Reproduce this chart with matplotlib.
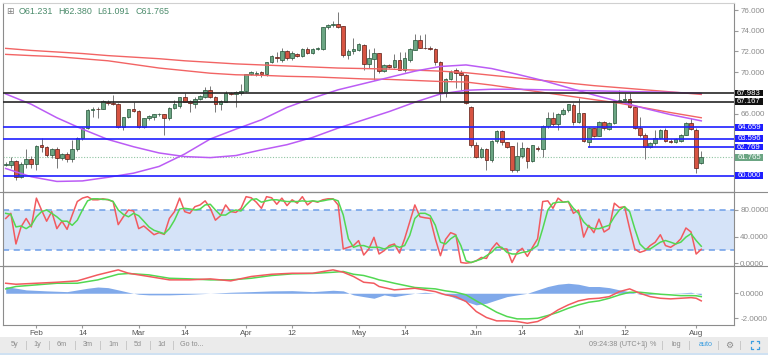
import matplotlib
matplotlib.use('Agg')
import matplotlib.pyplot as plt
import matplotlib.transforms as mtransforms
from matplotlib.lines import Line2D
from matplotlib.patches import Rectangle
from matplotlib.ticker import FormatStrFormatter
import numpy as np

plt.rcParams['font.family'] = ['Liberation Sans', 'DejaVu Sans']

W, H = 768, 355

# daily bars, 24 Jan .. 2 Aug (bar index 0 .. 136)
opens = [
    61.00, 61.04, 61.43, 59.91, 61.17, 61.62, 61.17, 62.97, 62.81, 62.00,
    62.58, 61.68, 62.07, 61.59, 62.58, 63.61, 64.64, 66.32, 66.46, 66.44,
    67.15, 67.06, 66.93, 64.68, 65.64, 66.41, 66.28, 64.68, 65.54, 65.65,
    65.93, 65.93, 65.54, 66.51, 66.73, 67.60, 67.22, 66.96, 67.38, 67.60,
    68.25, 67.63, 66.93, 67.15, 67.99, 67.86, 67.95, 68.18, 69.79, 69.85,
    70.05, 69.79, 70.95, 71.50, 71.20, 72.04, 71.34, 71.80, 71.60, 72.20,
    71.90, 72.20, 72.24, 74.33, 74.55, 74.70, 74.45, 71.66, 72.00, 72.14,
    72.60, 70.76, 71.27, 71.82, 70.15, 70.69, 70.53, 71.17, 70.21, 71.20,
    72.14, 73.10, 72.36, 72.36, 72.24, 71.01, 67.96, 69.34, 70.20, 69.90,
    69.73, 66.60, 62.97, 61.84, 62.58, 61.52, 63.36, 64.32, 63.23, 62.87,
    60.56, 61.94, 62.65, 61.42, 62.65, 62.58, 64.84, 65.61, 64.97, 65.96,
    66.35, 66.80, 65.22, 66.03, 63.29, 64.58, 63.84, 65.16, 64.51, 65.06,
    67.22, 67.31, 67.38, 66.61, 64.64, 63.93, 62.81, 63.13, 63.61, 64.42,
    63.36, 63.29, 63.36, 63.93, 65.06, 64.42, 61.231]
highs = [
    61.30, 61.84, 61.50, 61.36, 62.58, 61.90, 62.97, 63.61, 62.90, 62.70,
    62.80, 62.20, 62.33, 63.45, 63.70, 64.74, 66.40, 66.67, 66.67, 67.31,
    67.31, 67.80, 67.00, 65.70, 66.45, 67.15, 66.35, 65.60, 65.90, 66.00,
    66.05, 66.00, 66.60, 67.31, 67.63, 67.96, 67.31, 67.63, 67.80, 68.60,
    68.66, 67.70, 67.31, 68.18, 68.10, 68.18, 68.90, 69.85, 70.10, 70.10,
    70.10, 71.00, 71.70, 71.98, 72.30, 72.10, 72.00, 71.90, 72.30, 72.40,
    72.30, 72.40, 74.40, 74.70, 74.90, 75.77, 74.50, 72.20, 73.30, 72.80,
    72.70, 72.20, 72.30, 71.90, 70.75, 70.80, 71.72, 71.98, 71.98, 72.30,
    73.65, 73.60, 73.65, 72.50, 72.30, 71.10, 69.40, 70.20, 70.40, 70.20,
    69.80, 66.70, 63.29, 62.80, 62.65, 63.45, 64.42, 64.40, 63.30, 62.90,
    63.29, 63.29, 62.81, 63.00, 62.90, 64.90, 66.19, 66.12, 66.03, 66.50,
    66.93, 67.00, 67.47, 66.09, 64.74, 64.60, 65.30, 65.30, 65.20, 67.30,
    68.28, 68.00, 67.96, 66.70, 65.70, 64.10, 63.30, 64.42, 64.50, 64.58,
    63.50, 63.60, 64.00, 65.20, 65.54, 64.60, 62.380]
lows = [
    60.90, 60.72, 59.59, 59.75, 60.72, 60.70, 60.56, 62.33, 61.80, 61.68,
    60.72, 61.50, 61.36, 61.36, 62.40, 63.45, 64.50, 65.70, 65.54, 66.40,
    66.83, 66.83, 64.60, 64.42, 65.54, 66.19, 64.58, 64.60, 65.40, 65.38,
    65.80, 63.93, 65.40, 66.45, 66.51, 67.10, 66.19, 66.50, 67.30, 67.47,
    67.47, 66.19, 66.35, 67.10, 67.80, 66.67, 67.80, 68.10, 69.70, 69.60,
    69.50, 69.60, 70.90, 71.00, 71.00, 71.20, 71.20, 71.50, 71.50, 71.80,
    71.80, 72.10, 72.10, 74.20, 74.40, 74.30, 71.50, 71.30, 71.80, 72.00,
    70.20, 70.40, 69.25, 69.90, 70.05, 70.40, 70.37, 70.20, 70.05, 71.00,
    72.10, 72.30, 72.20, 72.10, 70.70, 67.10, 67.60, 69.20, 68.44, 68.30,
    66.90, 62.80, 61.68, 61.70, 60.56, 61.36, 63.20, 62.97, 62.70, 60.40,
    60.40, 61.68, 60.72, 61.36, 62.40, 61.84, 64.58, 64.84, 64.42, 65.90,
    66.20, 64.90, 65.06, 63.29, 62.81, 63.70, 63.80, 64.40, 64.40, 65.00,
    67.10, 67.20, 66.51, 64.50, 63.77, 61.62, 62.70, 62.97, 63.50, 63.29,
    63.20, 63.20, 63.30, 63.90, 64.42, 60.23, 61.091]
closes = [
    61.10, 61.43, 59.91, 61.10, 61.62, 61.17, 62.90, 62.81, 62.00, 62.58,
    61.68, 62.07, 61.59, 62.58, 63.61, 64.64, 66.35, 66.44, 66.40, 67.22,
    67.03, 66.89, 64.68, 65.64, 66.41, 66.25, 64.68, 65.54, 65.77, 65.93,
    65.96, 65.54, 66.57, 66.89, 67.60, 67.15, 66.99, 67.38, 67.73, 68.25,
    67.63, 66.93, 67.22, 67.96, 67.90, 68.05, 68.20, 69.79, 70.05, 69.95,
    69.79, 70.95, 71.60, 71.40, 72.04, 71.34, 71.90, 71.60, 72.20, 71.90,
    72.24, 72.30, 74.33, 74.55, 74.70, 74.40, 71.66, 72.04, 72.24, 72.70,
    70.76, 71.34, 71.82, 70.15, 70.69, 70.53, 71.17, 70.21, 71.34, 72.24,
    73.10, 72.36, 72.30, 72.24, 71.01, 67.96, 69.34, 70.05, 69.89, 69.70,
    67.00, 62.97, 61.84, 62.58, 61.52, 63.36, 64.32, 63.23, 62.81, 60.56,
    61.94, 62.65, 61.42, 62.97, 62.60, 64.84, 65.61, 64.97, 65.96, 66.35,
    66.89, 65.22, 66.03, 63.35, 64.58, 63.84, 65.16, 64.60, 65.06, 67.22,
    67.31, 67.38, 66.61, 64.64, 63.93, 62.81, 63.13, 63.61, 64.42, 63.36,
    63.29, 63.50, 63.93, 65.06, 64.51, 60.72, 61.765]

# moving averages, read every few bars
ma_x = [0, 5, 10, 15, 20, 25, 30, 35, 40, 45, 50, 55, 60, 65, 70, 75, 80,
        85, 90, 95, 100, 105, 110, 115, 120, 125, 130, 136]
red_slow = [72.30, 72.10, 71.95, 71.80, 71.60, 71.45, 71.30, 71.10, 70.95,
            70.80, 70.70, 70.60, 70.50, 70.40, 70.35, 70.30, 70.20, 70.10,
            69.95, 69.70, 69.45, 69.20, 68.95, 68.70, 68.50, 68.30, 68.10, 67.85]
red_fast = [71.72, 71.60, 71.50, 71.30, 71.10, 70.75, 70.40, 70.15, 69.90,
            69.75, 69.70, 69.60, 69.55, 69.45, 69.35, 69.30, 69.20, 69.10,
            69.05, 68.75, 68.40, 68.05, 67.70, 67.35, 67.00, 66.55, 66.10, 65.60]
purple_slow = [67.90, 66.90, 65.60, 64.50, 63.50, 62.80, 62.20, 61.85, 61.75,
               61.95, 62.50, 63.00, 63.70, 64.60, 65.40, 66.20, 67.10, 67.90,
               68.25, 68.35, 68.35, 68.30, 68.25, 68.20, 68.15, 68.10, 68.05, 67.95]
purple_fast = [60.70, 59.90, 59.45, 59.50, 59.85, 60.25, 60.90, 62.10, 63.55,
               64.50, 65.40, 66.60, 67.50, 68.30, 68.90, 69.50, 70.10, 70.55,
               70.70, 70.35, 69.80, 69.20, 68.50, 67.80, 67.15, 66.50, 65.90, 65.30]

# horizontal levels
level_prices = [67.983, 67.167, 64.659, 63.596, 62.769, 60.000]
level_start = [-1, -1, -1, -1, 113.8, -1]
level_kind = ['black', 'black', 'blue', 'blue', 'blue', 'blue']
last_price = 61.765

# stochastic %K / %D, one value per bar
stoch_k = [
    67.3, 75, 29, 54.6, 67.3, 54.6, 97.8, 80, 63.2, 77.5,
    52, 63.2, 51, 72.4, 92.7, 97.8, 100, 95.3, 95.3, 96.8,
    95.3, 92.7, 58, 69.8, 80, 78.5, 52, 56, 49.5, 42.9,
    46, 43.4, 67.3, 77.5, 97.8, 77.5, 75, 85, 87.6, 93.7,
    82.5, 64.7, 71.4, 87.6, 77.5, 76.4, 82.5, 100, 98.3, 91.7,
    82.5, 100, 98.3, 88.6, 97.8, 86.6, 95.3, 90.2, 100, 87.6,
    93.7, 91.7, 95.3, 96.8, 96.8, 87.6, 21.5, 24, 26.6, 34,
    12.4, 21.5, 39, 14, 19, 26.6, 29, 15.4, 36.8, 62.2,
    87.6, 69.8, 68.3, 67.3, 36.8, 11.4, 35.8, 46, 42.9, 1.2,
    0.2, 1.2, 3.7, 8.8, 7.3, 21.5, 30.7, 21.5, 21.5, 1.2,
    16.4, 22.5, 10.4, 24, 36.8, 92.7, 93.7, 82.5, 97.8, 91.7,
    92.7, 75, 80, 39.3, 57.1, 46, 66.3, 47, 52, 90.2,
    83.6, 85, 52, 21.5, 16.4, 19, 26.6, 31.7, 42.9, 26.6,
    24, 29, 36.8, 53, 47, 13.9, 21]
stoch_d = [
    75, 73.4, 54.6, 56, 52, 57, 69.8, 77.5, 80, 75,
    69.8, 63.2, 63.2, 57, 64.7, 80, 93.7, 96.8, 96.8, 95.8,
    95.8, 92.7, 80, 73.4, 69.8, 75, 71.4, 63.2, 54.6, 49.5,
    47, 44.4, 52, 64.7, 81.5, 82.5, 81.5, 80, 81.5, 87.6,
    88.6, 80, 72.4, 72.4, 77.5, 80, 78.5, 87.6, 95.3, 96.8,
    91.7, 93.7, 95.3, 95.3, 93.7, 92.7, 92.7, 92.7, 93.7, 92.7,
    93.7, 92.7, 93.7, 95.3, 96.3, 93.7, 72.4, 36.8, 24, 26.6,
    26.6, 24, 24, 24, 21.5, 24, 26.6, 24, 26.6, 41.9,
    67.3, 75, 75, 71.4, 57.1, 31.7, 29, 36.8, 41.9, 26.6,
    3.7, 1.2, 3.7, 6.3, 11.4, 16.4, 24, 24, 16.4, 14,
    14, 16.4, 17.5, 21.5, 26.6, 52, 80, 90.2, 91.7, 91.7,
    92.7, 82.5, 75, 62.2, 54.6, 52, 52, 54.6, 57.1, 69.8,
    80, 85, 77.5, 52, 29, 21.5, 21.5, 26.6, 31.7, 34.2,
    31.7, 29, 31.7, 39.3, 44.4, 34.2, 25.6]

# MACD line / signal, read every few bars
macd_x = [0, 2, 6, 10, 14, 18, 22, 24, 28, 32, 36, 40, 44, 48, 52, 56, 60,
          64, 66, 68, 70, 72, 73, 74, 76, 80, 84, 86, 88, 90, 92, 94, 96, 98,
          100, 102, 104, 106, 108, 110, 112, 114, 116, 118, 120, 122, 124,
          126, 128, 130, 132, 134, 135, 136]
macd_line = [0.80, 0.72, 0.80, 0.88, 0.99, 1.47, 1.87, 1.60, 1.34, 1.07, 1.07,
             1.15, 0.99, 1.34, 1.52, 1.60, 1.60, 1.87, 1.68, 1.34, 0.88, 0.80,
             0.54, 0.45, 0.27, 0.40, 0.13, -0.13, -0.27, -0.66, -1.46, -1.94,
             -2.21, -2.21, -2.26, -2.40, -2.26, -1.86, -1.33, -0.93, -0.61,
             -0.45, -0.40, -0.27, 0.13, 0.35, 0.00, -0.27, -0.40, -0.45,
             -0.40, -0.35, -0.40, -0.61]
macd_signal = [0.35, 0.54, 0.67, 0.80, 0.80, 1.07, 1.52, 1.58, 1.47, 1.20,
               1.15, 1.07, 1.07, 1.20, 1.42, 1.55, 1.58, 1.68, 1.74, 1.52,
               1.42, 1.20, 1.07, 0.99, 0.80, 0.46, 0.35, 0.19, 0.08, -0.13,
               -0.61, -1.06, -1.52, -1.86, -2.05, -2.05, -2.00, -1.78, -1.52,
               -1.20, -0.93, -0.72, -0.61, -0.40, -0.13, 0.08, 0.08, 0.00,
               -0.08, -0.13, -0.19, -0.19, -0.20, -0.27]
hist_x = [0, 4, 8, 12, 16, 18, 20, 22, 24, 26, 28, 32, 36, 40, 44, 48, 52, 56,
          60, 64, 66, 68, 70, 72, 74, 76, 78, 80, 82, 84, 86, 88, 90, 92, 94,
          96, 98, 100, 102, 104, 106, 108, 110, 112, 114, 116, 118, 120, 122,
          124, 126, 128, 130, 132, 134, 136]
hist_v = [0.54, 0.27, 0.19, 0.13, 0.40, 0.50, 0.45, 0.27, 0.08, -0.08, -0.13,
          -0.13, -0.08, 0.00, 0.08, 0.13, 0.19, 0.21, 0.13, 0.24, 0.19, -0.13,
          -0.27, -0.40, -0.13, -0.27, -0.13, 0.00, 0.08, 0.00, -0.08, -0.40,
          -0.66, -0.93, -0.80, -0.53, -0.27, -0.13, 0.00, 0.27, 0.54, 0.72,
          0.80, 0.72, 0.54, 0.54, 0.45, 0.27, 0.13, -0.08, -0.08, 0.00, 0.00,
          0.03, 0.08, -0.13]

date_idx = [6, 15, 26, 35, 47, 56, 69, 78, 92, 101, 112, 121, 135]
date_lbl = ['Feb', '14', 'Mar', '14', 'Apr', '12', 'May', '14', 'Jun', '14',
            'Jul', '12', 'Aug']

UP, UP_EDGE = '#6ba583', '#225437'
DN, DN_EDGE = '#d75442', '#5b1a13'
AXIS_TXT = '#8a8a8a'


def px_rect(x0, y0, x1, y1):
    return [x0 / W, 1 - y1 / H, (x1 - x0) / W, (y1 - y0) / H]


fig = plt.figure(figsize=(W / 100, H / 100), dpi=100)
fig.patch.set_facecolor('white')

ax_p = fig.add_axes(px_rect(3, 3, 734, 192))
ax_s = fig.add_axes(px_rect(3, 192, 734, 266), sharex=ax_p)
ax_m = fig.add_axes(px_rect(3, 266, 734, 325), sharex=ax_p)

# ---- price panel
x = np.arange(len(closes))
o, h, l, c = (np.array(v) for v in (opens, highs, lows, closes))
up = c >= o
body = np.maximum(np.abs(c - o), 0.05)
base = np.minimum(o, c)
ax_p.vlines(x, l, h, color='#777777', lw=0.7, zorder=2)
ax_p.bar(x[up], body[up], bottom=base[up], width=0.7, color=UP,
         edgecolor=UP_EDGE, lw=0.5, zorder=3)
ax_p.bar(x[~up], body[~up], bottom=base[~up], width=0.7, color=DN,
         edgecolor=DN_EDGE, lw=0.5, zorder=3)

ax_p.plot(ma_x, red_slow, color='#f26464', lw=1.0, zorder=4)
ax_p.plot(ma_x, red_fast, color='#f26464', lw=1.0, zorder=4)
ax_p.plot(ma_x, purple_slow, color='#bb5cf5', lw=1.1, zorder=4)
ax_p.plot(ma_x, purple_fast, color='#bb5cf5', lw=1.1, zorder=4)

colors = {'black': '#262626', 'blue': '#1f1fff'}
for price, start, kind in zip(level_prices, level_start, level_kind):
    ax_p.hlines(price, start, 200, color=colors[kind], lw=1.2, zorder=5)
ax_p.axhline(last_price, color='#8fc4a2', lw=0.8, ls=(0, (1, 1.5)), zorder=1)

ax_p.set_xlim(-0.53, 142.4)
ax_p.set_ylim(58.43, 76.68)

blend = mtransforms.blended_transform_factory(ax_p.transAxes, ax_p.transData)
lab_x, lab_w, lab_h = 1.0015, 0.038, 0.66
for price, kind in zip(level_prices, level_kind):
    ax_p.add_patch(Rectangle((lab_x, price - lab_h / 2), lab_w, lab_h,
                             transform=blend, clip_on=False,
                             fc=('#111111' if kind == 'black' else '#1f1fff'),
                             ec='none', zorder=6))
    ax_p.text(lab_x + lab_w / 2, price, '%.3f' % price, transform=blend,
              ha='center', va='center', fontsize=5.6, color='white', zorder=7)
ax_p.add_patch(Rectangle((lab_x, last_price - lab_h / 2), lab_w, lab_h,
                         transform=blend, clip_on=False, fc='#6ba583',
                         ec='none', zorder=6))
ax_p.text(lab_x + lab_w / 2, last_price, '%.3f' % last_price, transform=blend,
          ha='center', va='center', fontsize=5.6, color='white', zorder=7)

ax_p.set_yticks([66, 70, 72, 74, 76])
ax_p.yaxis.set_major_formatter(FormatStrFormatter('%.3f'))

# ---- stochastic panel
ax_s.axhspan(20, 80, color='#d5e3f8', lw=0, zorder=0)
for lvl in (20, 80):
    ax_s.axhline(lvl, color='#6d9ee8', lw=1.1, ls=(0, (4, 3)), zorder=1)
ax_s.plot(x, stoch_k, color='#f25a5f', lw=1.1, zorder=3)
ax_s.plot(x, stoch_d, color='#52d852', lw=1.1, zorder=3)
ax_s.set_ylim(-4.05, 107)
ax_s.set_yticks([0, 40, 80])
ax_s.yaxis.set_major_formatter(FormatStrFormatter('%.4f'))

# ---- MACD panel
ax_m.fill_between(hist_x, 0, hist_v, color='#80a9ea', lw=0, zorder=1)
ax_m.plot(macd_x, macd_signal, color='#52d852', lw=1.1, zorder=3)
ax_m.plot(macd_x, macd_line, color='#f25a5f', lw=1.1, zorder=3)
ax_m.set_ylim(-2.54, 2.18)
ax_m.set_yticks([-2, 0])
ax_m.yaxis.set_major_formatter(FormatStrFormatter('%.4f'))
ax_m.set_xticks(date_idx)
ax_m.set_xticklabels(date_lbl)
ax_m.tick_params(axis='x', length=2, pad=1.5, labelsize=5.8, colors='#555555',
                 color='#999999')

for ax in (ax_p, ax_s, ax_m):
    ax.set_facecolor('none')
    ax.yaxis.tick_right()
    ax.tick_params(axis='y', length=3, pad=1.5, labelsize=5.8,
                   labelcolor=AXIS_TXT, color='#999999')
    for side in ('left', 'right', 'top', 'bottom'):
        ax.spines[side].set_color('#8c8c8c')
        ax.spines[side].set_linewidth(0.8)
for ax in (ax_p, ax_s):
    ax.tick_params(axis='x', bottom=False, labelbottom=False)
ax_p.spines['top'].set_color('#d0d0d0')

# panel separators run across the price scale too
for yy in (192, 266):
    fig.add_artist(Line2D([0, 1], [1 - yy / H] * 2, color='#8c8c8c', lw=0.8,
                          transform=fig.transFigure))

# ---- OHLC header
fig.text(6 / W, 1 - 12 / H, '\u229e', fontsize=6.5, color='#808080',
         va='center', family=['DejaVu Sans'])
for txt, px in [('O61.231', 19), ('H62.380', 58), ('L61.091', 97),
                ('C61.765', 136)]:
    fig.text(px / W, 1 - 12 / H, txt, fontsize=6.4, color='#4b8b6b',
             va='center')

# ---- bottom toolbar
fig.add_artist(Rectangle((0, 1 - 353 / H), 1, 16 / H, transform=fig.transFigure,
                         fc='#ebebeb', ec='none'))
fig.add_artist(Rectangle((0, 0), 1, 2 / H, transform=fig.transFigure,
                         fc='#cfe1f2', ec='none'))
ty = 1 - 345 / H
for txt, px in [('5y', 15), ('1y', 37), ('6m', 62), ('3m', 88), ('1m', 113),
                ('5d', 138), ('1d', 161), ('Go to...', 192),
                ('09:24:38 (UTC+1)', 618), ('%', 653), ('log', 676.5)]:
    fig.text(px / W, ty, txt, fontsize=5.2, color='#8c8c8c', ha='center',
             va='center')
fig.text(706 / W, ty, 'auto', fontsize=5.2, color='#3c9ee0', ha='center',
         va='center')
fig.text(729 / W, ty, '\u2699', fontsize=6.5, color='#8c8c8c', ha='center',
         va='center', family=['DejaVu Sans'])
for px in (25.5, 49, 75, 100, 125.5, 150, 172.5, 644, 662, 689, 718, 740):
    fig.add_artist(Line2D([px / W] * 2, [1 - 349 / H, 1 - 341 / H],
                          color='#c8c8c8', lw=0.7, transform=fig.transFigure))
# expand icon: four little corners
cx, cy, r, a = 755, 345, 4, 2
for sx in (-1, 1):
    for sy in (-1, 1):
        xs = [cx + sx * r, cx + sx * r, cx + sx * (r - a)]
        ys = [cy + sy * (r - a), cy + sy * r, cy + sy * r]
        fig.add_artist(Line2D([v / W for v in xs], [1 - v / H for v in ys],
                              color='#3c9ee0', lw=0.9,
                              transform=fig.transFigure))

fig.savefig('out.png', dpi=100)
